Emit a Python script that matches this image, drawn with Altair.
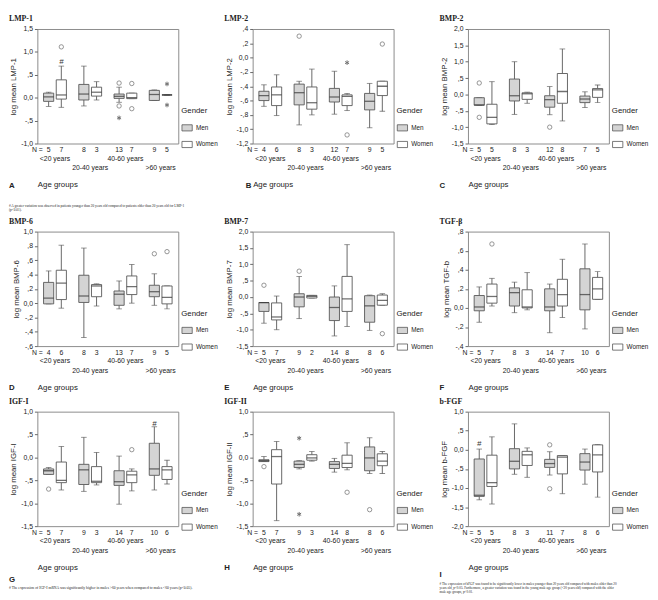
import altair as alt
import pandas as pd

AGES = ["<20 years", "20-40 years", "40-60 years", ">60 years"]
GENDERS = ["Men", "Women"]

# each box: (whisker low, Q1, median, Q3, whisker high); order <20 Men, <20 Women, 20-40 Men, ...
lmp1_box = [(-0.19, -0.08, 0.02, 0.10, 0.12), (-0.21, -0.03, 0.06, 0.39, 0.69),
            (-0.18, -0.05, 0.08, 0.29, 0.69), (-0.05, 0.035, 0.12, 0.23, 0.35),
            (-0.10, -0.015, 0.03, 0.08, 0.23), (-0.02, -0.02, 0.0, 0.10, 0.10),
            (-0.06, -0.06, 0.07, 0.16, 0.17), (0.06, 0.06, 0.06, 0.06, 0.06)]
lmp1_n = [5, 7, 8, 3, 13, 7, 9, 5]
lmp1_out = [(1, 1.11, "o"), (4, 0.32, "o"), (4, -0.18, "o"), (4, -0.44, "*"), (5, 0.31, "o"),
            (5, -0.24, "o"), (7, 0.30, "*"), (7, -0.16, "*")]
lmp1_hash = [(1, 0.78)]

lmp2_box = [(-0.68, -0.60, -0.53, -0.47, -0.38), (-0.81, -0.67, -0.52, -0.41, -0.24),
            (-0.94, -0.66, -0.49, -0.37, -0.33), (-0.80, -0.72, -0.63, -0.41, -0.16),
            (-0.79, -0.62, -0.55, -0.43, -0.19), (-0.74, -0.67, -0.54, -0.52, -0.50),
            (-0.98, -0.73, -0.61, -0.50, -0.36), (-0.75, -0.53, -0.40, -0.33, -0.33)]
lmp2_n = [4, 6, 8, 3, 12, 7, 9, 5]
lmp2_out = [(2, 0.30, "o"), (5, -0.07, "*"), (5, -1.08, "o"), (7, 0.19, "o")]

bmp2_box = [(-0.33, -0.33, -0.32, -0.10, -0.10), (-0.92, -0.90, -0.70, -0.30, 0.39),
            (-0.61, -0.20, -0.04, 0.47, 1.00), (-0.27, -0.15, 0.02, 0.05, 0.07),
            (-0.62, -0.39, -0.16, -0.04, 0.24), (-0.81, -0.27, 0.09, 0.64, 1.39),
            (-0.40, -0.25, -0.14, -0.05, 0.08), (-0.25, -0.09, 0.14, 0.18, 0.29)]
bmp2_n = [5, 5, 8, 3, 12, 8, 7, 5]
bmp2_out = [(0, 0.35, "o"), (0, -0.70, "o"), (4, -1.00, "o")]

bmp6_box = [(-0.01, -0.01, 0.07, 0.29, 0.45), (-0.07, 0.05, 0.28, 0.46, 0.81),
            (-0.48, 0.01, 0.10, 0.39, 0.77), (-0.04, 0.09, 0.24, 0.26, 0.27),
            (-0.08, -0.03, 0.125, 0.17, 0.31), (0.0, 0.12, 0.23, 0.38, 0.54),
            (-0.03, 0.09, 0.16, 0.25, 0.41), (-0.08, -0.01, 0.08, 0.24, 0.24)]
bmp6_n = [4, 6, 8, 3, 13, 7, 9, 5]
bmp6_out = [(6, 0.69, "o"), (7, 0.72, "o")]

bmp7_box = [(-0.80, -0.44, -0.17, -0.17, -0.17), (-1.00, -0.70, -0.61, -0.18, 0.03),
            (-0.66, -0.30, 0.0, 0.10, 0.63), (-0.03, -0.03, 0.02, 0.05, 0.05),
            (-1.19, -0.72, -0.32, 0.0, 0.34), (-0.90, -0.44, -0.06, 0.63, 1.60),
            (-1.02, -0.77, -0.27, 0.04, 0.06), (-0.25, -0.25, -0.10, 0.06, 0.10)]
bmp7_n = [5, 7, 9, 2, 14, 8, 8, 6]
bmp7_out = [(0, 0.36, "o"), (2, 0.79, "o"), (7, -1.12, "o")]

tgfb_box = [(-0.15, -0.03, 0.01, 0.13, 0.22), (0.02, 0.05, 0.12, 0.25, 0.31),
            (-0.05, 0.02, 0.16, 0.21, 0.27), (-0.02, 0.0, 0.01, 0.19, 0.37),
            (-0.26, -0.03, 0.01, 0.20, 0.25), (-0.10, 0.02, 0.14, 0.30, 0.51),
            (-0.22, -0.02, 0.14, 0.41, 0.67), (0.09, 0.09, 0.20, 0.32, 0.38)]
tgfb_n = [5, 7, 8, 3, 14, 7, 10, 6]
tgfb_out = [(1, 0.67, "o")]

igf1_box = [(-0.37, -0.37, -0.29, -0.25, -0.22), (-0.71, -0.55, -0.50, -0.10, 0.24),
            (-0.74, -0.59, -0.27, -0.15, 0.44), (-0.60, -0.55, -0.52, -0.20, 0.11),
            (-1.02, -0.61, -0.53, -0.29, 0.03), (-0.73, -0.55, -0.38, -0.30, -0.25),
            (-0.71, -0.39, -0.25, 0.31, 0.67), (-0.58, -0.48, -0.27, -0.20, -0.06)]
igf1_n = [5, 7, 9, 3, 14, 7, 10, 6]
igf1_out = [(0, -0.69, "o"), (5, 0.17, "o")]
igf1_hash = [(6, 0.74)]

igf2_box = [(-0.09, -0.09, -0.07, -0.05, 0.02), (-1.38, -0.58, 0.02, 0.17, 0.35),
            (-0.25, -0.22, -0.15, -0.08, -0.07), (-0.08, -0.06, -0.01, 0.06, 0.13),
            (-0.32, -0.24, -0.15, -0.09, -0.02), (-0.27, -0.22, -0.13, 0.05, 0.32),
            (-0.35, -0.29, -0.01, 0.23, 0.43), (-0.35, -0.18, -0.08, 0.08, 0.13)]
igf2_n = [5, 7, 9, 3, 14, 8, 8, 6]
igf2_out = [(0, -0.20, "o"), (2, 0.42, "*"), (2, -1.24, "*"), (5, -0.76, "o"), (6, -1.14, "o")]

bfgf_box = [(-1.31, -1.22, -1.19, -0.24, 0.02), (-1.42, -0.96, -0.86, -0.14, 0.34),
            (-0.64, -0.50, -0.30, 0.03, 0.68), (-0.72, -0.41, -0.13, -0.04, 0.05),
            (-0.66, -0.46, -0.36, -0.25, -0.05), (-1.15, -0.63, -0.19, -0.15, -0.15),
            (-0.90, -0.53, -0.32, -0.10, 0.02), (-1.24, -0.58, -0.13, 0.13, 0.14)]
bfgf_n = [5, 5, 8, 3, 11, 7, 8, 6]
bfgf_out = [(4, 0.13, "o"), (4, -1.02, "o")]
bfgf_hash = [(0, 0.15)]

note_a = ["# A greater variation was observed in patients younger than 20 years old compared to patients older than 20 years old for LMP-1",
          "(p<0.01)."]
note_g = ["# The expression of IGF-I mRNA was significantly higher in males >60 years when compared to males <60 years (p<0.05)."]
note_i = ["# The expression of bFGF was found to be significantly lower in males younger than 20 years old compared with males older than 20",
          "years old, p<0.05. Furthermore, a greater variation was found in the young male age group (<20 years old) compared with the older",
          "male age groups, p<0.01."]

W, H = 144, 117
SANS = "Liberation Sans"
SERIF = "Liberation Serif"
INK = "#222222"
LINE = "#555555"
STAR = "M0,-1V1M-0.87,-0.5L0.87,0.5M-0.87,0.5L0.87,-0.5"
LEG_SYM = "M-1,-0.6H1V0.6H-1Z"

LBL = ("datum.value == 0 ? '0,0' : (datum.value < 0 ? '-' : '') + "
       "(abs(datum.value) >= 0.999 ? floor(abs(datum.value) + 0.001) : '') + ',' + "
       "(round(abs(datum.value) * 10) % 10)")


def ticks(lo, hi, step):
    out, v = [], lo
    while v <= hi + 1e-9:
        out.append(round(v, 2))
        v += step
    return out


def panel(title, ytitle, letter, box, n, out, dom, step, hashes=None, note=None,
          letter_dx=-29, letter_dy=43, note_dy=62, note_size=3.5, title_dx=-29):
    df = pd.DataFrame({
        "age": [AGES[i // 2] for i in range(8)],
        "gender": [GENDERS[i % 2] for i in range(8)],
        "lo": [b[0] for b in box], "q1": [b[1] for b in box], "med": [b[2] for b in box],
        "q3": [b[3] for b in box], "hi": [b[4] for b in box],
        "n": [str(v) for v in n],
    })
    xaxis = alt.Axis(
        title="Age groups", labelAngle=0, ticks=False, domain=False, labelOverlap=False,
        labelExpr="datum.value == '20-40 years' || datum.value == '>60 years' ? ['', datum.label] : datum.label",
        labelFontSize=7, labelLineHeight=10, labelPadding=11, labelFont=SANS, labelColor=INK,
        titleX=0, titleY=42, titleAnchor="start", titleAlign="left", titleBaseline="middle",
        titleFontSize=8, titleFontWeight="normal", titleFont=SANS, titleColor=INK)
    X = alt.X("age:N", sort=AGES, axis=xaxis,
              scale=alt.Scale(domain=AGES, paddingInner=0.28, paddingOuter=0.14))
    XO = alt.XOffset("gender:N", sort=GENDERS,
                     scale=alt.Scale(domain=GENDERS, paddingInner=0.2, paddingOuter=0.1))
    yaxis = alt.Axis(values=ticks(dom[0], dom[1], step), labelExpr=LBL, grid=False, domain=False,
                     tickSize=3, tickColor="#666", labelFontSize=7, labelPadding=2, labelFont=SANS,
                     labelColor=INK, titleFontSize=8, titleFont=SANS, titleFontWeight="normal",
                     titleColor=INK, titlePadding=3)
    yscale = alt.Scale(domain=dom, nice=False, zero=False)

    def Y(f):
        return alt.Y(f, type="quantitative", scale=yscale, axis=yaxis, title=ytitle)

    base = alt.Chart(df).encode(x=X, xOffset=XO)
    box_w = 0.4 * 0.72 * W / 4
    layers = [
        base.mark_rule(color=LINE, strokeWidth=0.9).encode(y=Y("lo"), y2="q1"),
        base.mark_rule(color=LINE, strokeWidth=0.9).encode(y=Y("q3"), y2="hi"),
        base.mark_tick(color=LINE, size=box_w * 0.55, thickness=0.9).encode(y=Y("lo")),
        base.mark_tick(color=LINE, size=box_w * 0.55, thickness=0.9).encode(y=Y("hi")),
        base.mark_bar(stroke=LINE, strokeWidth=0.9).encode(
            y=Y("q1"), y2="q3",
            fill=alt.Fill("gender:N", sort=GENDERS,
                          scale=alt.Scale(domain=GENDERS, range=["#d4d4d4", "#ffffff"]),
                          legend=alt.Legend(title="Gender", orient="none", legendX=W + 3, legendY=80,
                                            symbolType=LEG_SYM, symbolSize=110,
                                            symbolStrokeColor=LINE, symbolStrokeWidth=0.8,
                                            titleFontSize=8, titleFontWeight="normal", titleFont=SANS,
                                            titleColor=INK, labelFontSize=6.5, labelFont=SANS,
                                            labelColor=INK, rowPadding=6, titlePadding=7,
                                            labelOffset=3))),
        base.mark_tick(color="#333333", size=box_w, thickness=1.3).encode(y=Y("med")),
        base.mark_text(fontSize=7, font=SANS, color=INK, baseline="middle").encode(
            y=alt.value(H + 7), text="n:N"),
    ]
    circ = [o for o in out if o[2] == "o"]
    star = [o for o in out if o[2] == "*"]
    if circ:
        cdf = pd.DataFrame({"age": [AGES[o[0] // 2] for o in circ],
                            "gender": [GENDERS[o[0] % 2] for o in circ],
                            "v": [o[1] for o in circ]})
        layers.append(alt.Chart(cdf).mark_point(shape="circle", filled=False, size=20,
                                                color="#444", strokeWidth=0.8)
                      .encode(x=X, xOffset=XO, y=Y("v")))
    if star:
        sdf = pd.DataFrame({"age": [AGES[o[0] // 2] for o in star],
                            "gender": [GENDERS[o[0] % 2] for o in star],
                            "v": [o[1] for o in star]})
        layers.append(alt.Chart(sdf).mark_point(shape=STAR, filled=False, size=22,
                                                color="#333", strokeWidth=1)
                      .encode(x=X, xOffset=XO, y=Y("v")))
    if hashes:
        hdf = pd.DataFrame({"age": [AGES[h[0] // 2] for h in hashes],
                            "gender": [GENDERS[h[0] % 2] for h in hashes],
                            "v": [h[1] for h in hashes], "t": ["#" for h in hashes]})
        layers.append(alt.Chart(hdf).mark_text(fontSize=8, font=SANS, color="#333",
                                               fontStyle="italic", baseline="middle")
                      .encode(x=X, xOffset=XO, y=Y("v"), text="t:N"))
    layers.append(alt.Chart(pd.DataFrame({"t": ["N ="]})).mark_text(
        fontSize=7, font=SANS, color=INK, baseline="middle", align="center")
        .encode(x=alt.value(0), y=alt.value(H + 7), text="t:N"))
    layers.append(alt.Chart(pd.DataFrame({"t": [letter]})).mark_text(
        fontSize=8, font=SANS, fontWeight="bold", color=INK, baseline="middle", align="left")
        .encode(x=alt.value(letter_dx), y=alt.value(H + letter_dy), text="t:N"))
    layers.append(alt.Chart(pd.DataFrame({"t": [title]})).mark_text(
        fontSize=8, font=SERIF, fontWeight="bold", color=INK, baseline="middle", align="left")
        .encode(x=alt.value(title_dx), y=alt.value(-10), text="t:N"))
    if note:
        layers.append(alt.Chart(pd.DataFrame({"t": [note]})).mark_text(
            fontSize=note_size, font=SERIF, color=INK, baseline="top", align="left", lineHeight=4.2)
            .encode(x=alt.value(-29), y=alt.value(H + note_dy), text="t"))
    return alt.layer(*layers).properties(width=W, height=H)


pA = panel("LMP-1", "log mean LMP-1", "A", lmp1_box, lmp1_n, lmp1_out, [-1.0, 1.5], 0.5,
           hashes=lmp1_hash, note=note_a, note_dy=62, note_size=3.5)
pB = panel("LMP-2", "log mean LMP-2", "B", lmp2_box, lmp2_n, lmp2_out, [-1.2, 0.4], 0.2, letter_dx=-7)
pC = panel("BMP-2", "log mean BMP-2", "C", bmp2_box, bmp2_n, bmp2_out, [-1.5, 2.0], 0.5)
pD = panel("BMP-6", "log mean BMP-6", "D", bmp6_box, bmp6_n, bmp6_out, [-0.6, 1.0], 0.2)
pE = panel("BMP-7", "log mean BMP-7", "E", bmp7_box, bmp7_n, bmp7_out, [-1.5, 2.0], 0.5)
pF = panel("TGF-β", "log mean TGF-b", "F", tgfb_box, tgfb_n, tgfb_out, [-0.4, 0.8], 0.2)
pG = panel("IGF-I", "log mean IGF-I", "G", igf1_box, igf1_n, igf1_out, [-1.5, 1.0], 0.5,
           hashes=igf1_hash, note=note_g, letter_dy=55, note_dy=61, note_size=3.8)
pH = panel("IGF-II", "log mean IGF-II", "H", igf2_box, igf2_n, igf2_out, [-1.5, 1.0], 0.5)
pI = panel("b-FGF", "log mean b-FGF", "I", bfgf_box, bfgf_n, bfgf_out, [-2.0, 1.0], 0.5,
           hashes=bfgf_hash, note=note_i, letter_dy=50, note_dy=57, note_size=3.4)


def row(*charts):
    return (alt.hconcat(*charts, spacing=4)
            .resolve_scale(fill="independent").resolve_legend(fill="independent"))


chart = (alt.vconcat(row(pA, pB, pC), row(pD, pE, pF), row(pG, pH, pI), spacing=4)
         .resolve_scale(fill="independent").resolve_legend(fill="independent")
         .properties(padding=0, background="white")
         .configure_view(stroke="#8a8a8a", strokeWidth=1))

chart.save("out.html", embed_options={"renderer": "svg", "actions": False})
